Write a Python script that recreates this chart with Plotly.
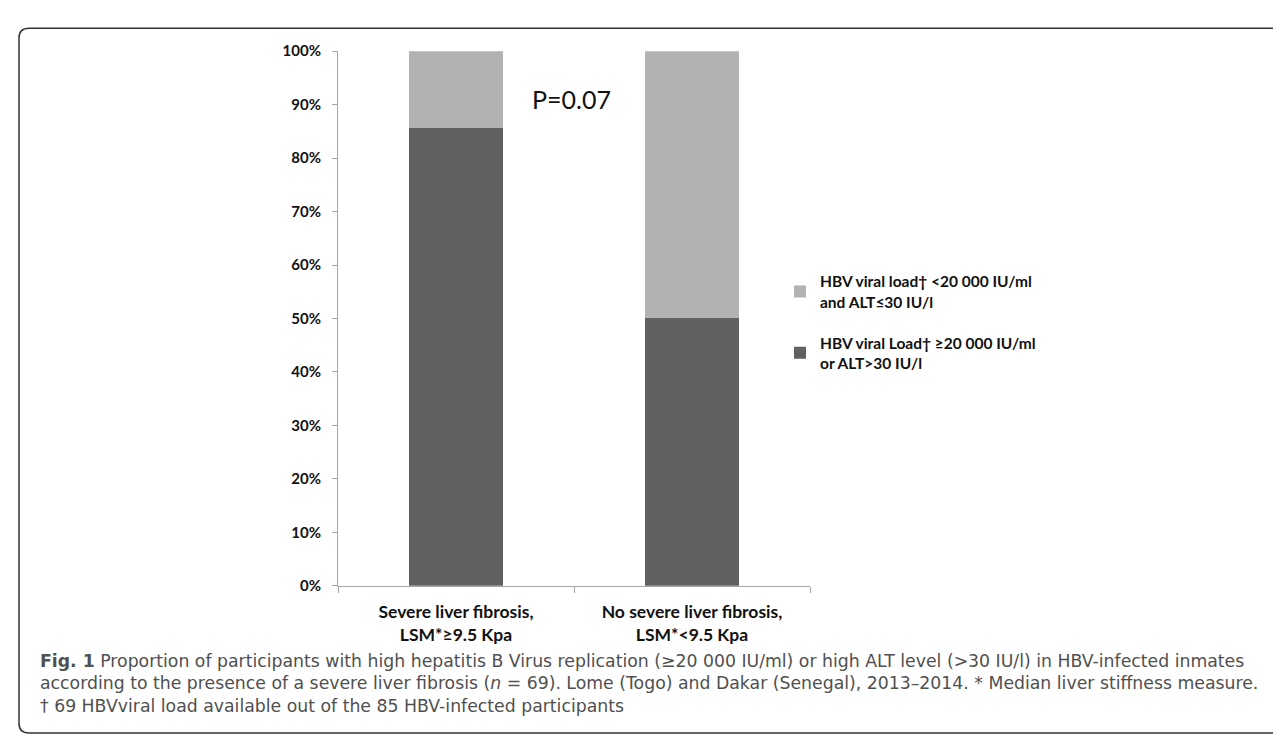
import plotly.graph_objects as go

W, H = 1281, 736

categories = ["Severe liver fibrosis,<br>LSM*≥9.5 Kpa",
              "No severe liver fibrosis,<br>LSM*&lt;9.5 Kpa"]
x_pos = [0, 1]
high_values = [85.7, 50.0]   # HBV viral load >= 20 000 IU/ml or ALT > 30 IU/l
low_values = [14.3, 50.0]    # HBV viral load < 20 000 IU/ml and ALT <= 30 IU/l
y_ticks = [0, 10, 20, 30, 40, 50, 60, 70, 80, 90, 100]
y_ticklabels = [f"{v}%" for v in y_ticks]

name_high = "HBV viral Load† ≥20 000 IU/ml<br>or ALT&gt;30 IU/l"
name_low = "HBV viral load† &lt;20 000 IU/ml<br>and ALT≤30 IU/l"

caption_lines = [
    "<b>Fig. 1</b> Proportion of participants with high hepatitis B Virus replication (≥20 000 IU/ml) or high ALT level (&gt;30 IU/l) in HBV-infected inmates",
    "according to the presence of a severe liver fibrosis (<i>n</i> = 69). Lome (Togo) and Dakar (Senegal), 2013–2014. * Median liver stiffness measure.",
    "† 69 HBVviral load available out of the 85 HBV-infected participants",
]

DARK = "#616161"
LIGHT = "#b2b2b2"
AXIS = "#a6a6a6"
FONT = "Lato"

fig = go.Figure()
fig.add_trace(go.Bar(x=x_pos, y=high_values, name=name_high, marker_color=DARK,
                     marker_line_width=0, width=0.4, legendgroup="a", legendrank=2))
fig.add_trace(go.Bar(x=x_pos, y=low_values, name=name_low, marker_color=LIGHT,
                     marker_line_width=0, width=0.4, legendgroup="b", legendrank=1))

px = lambda v: v / W
py = lambda v: 1 - v / H

fig.update_layout(
    width=W, height=H,
    barmode="stack",
    margin=dict(l=0, r=0, t=0, b=0),
    paper_bgcolor="white", plot_bgcolor="white",
    font=dict(family=FONT, color="#000000"),
    showlegend=True,
    legend=dict(x=px(772), y=py(253), xanchor="left", yanchor="top",
                traceorder="grouped", tracegroupgap=18,
                font=dict(family=FONT, size=15.5, color="#111111", weight="bold"),
                bgcolor="rgba(0,0,0,0)"),
    xaxis=dict(domain=[px(330), px(802)], range=[-0.5, 1.5],
               tickvals=x_pos, ticktext=categories, ticks="",
               ticklabelstandoff=10,
               tickfont=dict(family=FONT, size=17.5, color="#111111", weight="bold"),
               showline=True, linecolor=AXIS, linewidth=1, showgrid=False,
               zeroline=False, fixedrange=True,
               minor=dict(tickvals=[-0.5, 0.5, 1.5], ticks="outside",
                          ticklen=6, tickcolor=AXIS, tickwidth=1, showgrid=False)),
    yaxis=dict(domain=[1 - 582 / H, 1 - 34 / H], range=[0, 100],
               tickvals=y_ticks, ticktext=y_ticklabels,
               ticks="outside", ticklen=5, tickcolor=AXIS, tickwidth=1,
               ticklabelstandoff=8,
               tickfont=dict(family=FONT, size=15, color="#111111", weight="bold"),
               showline=True, linecolor=AXIS, linewidth=1, showgrid=False,
               zeroline=False, fixedrange=True),
)

# p-value annotation in data coordinates
fig.add_annotation(x=0.49, y=91, xref="x", yref="y", text="P=0.07",
                   showarrow=False, font=dict(family=FONT, size=25, color="#111111"))

# caption (one text block)
fig.add_annotation(x=px(30), y=py(682), xref="paper", yref="paper",
                   xanchor="left", yanchor="middle", align="left",
                   text="<br>".join(caption_lines), showarrow=False,
                   font=dict(family="DejaVu Sans", size=17.3, color="#505050"))

# figure frame (rounded top-left / bottom-left corners, open on the right)
r = 10
frame = (f"M {px(1300)},{py(10.5)} L {px(11 + r)},{py(10.5)} "
         f"Q {px(11)},{py(10.5)} {px(11)},{py(10.5 + r)} "
         f"L {px(11)},{py(733 - r)} Q {px(11)},{py(733)} {px(11 + r)},{py(733)} "
         f"L {px(1300)},{py(733)}")
fig.add_shape(type="path", path=frame, xref="paper", yref="paper",
              line=dict(color="#333333", width=1.5))

fig.write_html("out.html")
